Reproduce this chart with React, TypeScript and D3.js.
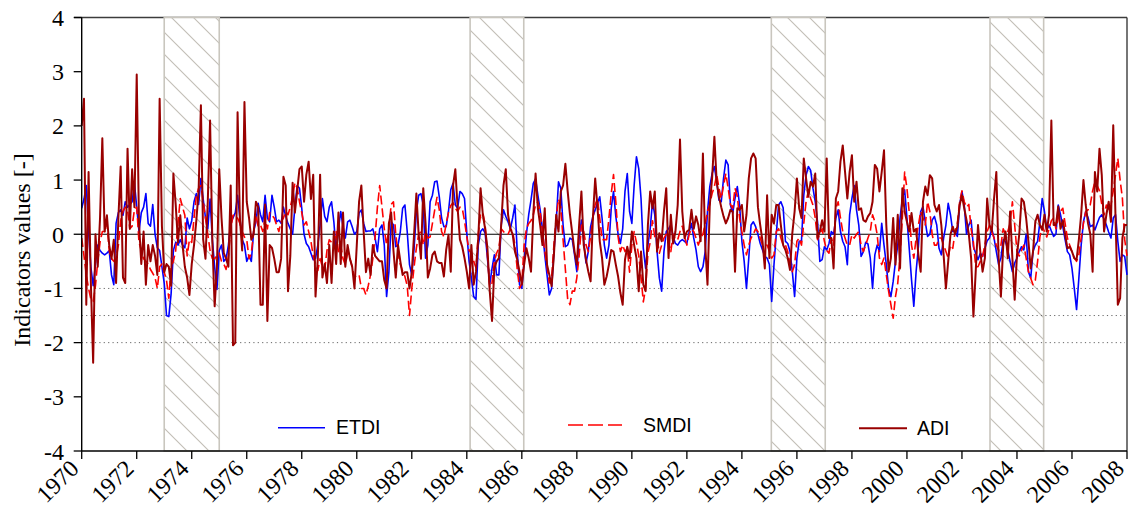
import React from 'react';
import * as d3 from 'd3';

// monthly values, Jan 1970 .. Jan 2008
const etdi = [
  0.48, 0.65, 0.9, 0.05, -0.6, -0.95, -0.55, -0.2, -0.3, -0.35,
  -0.38, -0.35, -0.3, -0.75, -0.93, 0.2, 0.4, 0.45, 0.35, 0.6,
  0.5, 0.55, 0.6, 0.95, 0.5, 0.05, 0.4, 0.5, 0.75, 0.2,
  0.15, 0.55, 0.0, -0.25, -0.3, -0.6, -0.9, -1.5, -1.52, -1.1,
  -0.3, -0.15, -0.2, -0.1, -0.2, -0.25, 0.3, 0.1, 0.25, 0.6,
  0.75, 0.55, 1.03, 0.65, 0.3, 0.1, 0.65, -0.1, -0.6, -1.02,
  -0.3, -0.2, -0.5, -0.45, -0.2, 0.2, 0.3, 0.4, 0.72, 0.3,
  -0.1, -0.2, -0.5, -0.4, -0.5, 0.05, 0.23, 0.57, 0.36, 0.23,
  0.72, 0.3, 0.23, 0.72, 0.5, 0.23, 0.26, 0.2, 0.5, 0.33,
  0.2, 0.1, 0.0, 0.5, 0.9, 0.85, 0.48, 0.0, -0.17, -0.23,
  -0.35, -0.47, -0.45, -0.2, 0.17, 0.66, 0.33, 0.23, 0.5, 0.6,
  0.23, -0.32, 0.1, 0.42, 0.14, -0.07, 0.23, 0.26, 0.14, 0.0,
  0.05, 0.39, 0.45, 0.2, 0.05, 0.06, 0.06, 0.1, -0.07, -0.32,
  0.1, 0.17, -0.2, -1.15, -0.7, 0.23, 0.17, -0.23, -0.2, 0.05,
  0.48, 0.54, 0.05, -0.56, -0.75, -0.26, 0.42, 0.72, 0.75, 0.54,
  -0.44, -0.2, 0.6, 0.72, 0.97, 0.98, 0.69, 0.3, 0.14, 0.14,
  0.42, 0.82, 0.94, 0.54, 0.48, 0.79, 0.75, 0.66, 0.02, -0.5,
  -0.81, -1.15, -1.2, -0.2, 0.05, 0.1, 0.02, -0.44, -0.93, -0.63,
  -0.38, -0.75, -0.75, 0.17, 0.45, 0.33, 0.23, 0.1, 0.3, 0.54,
  -0.32, -0.93, -1.0, -0.5, 0.0, 0.36, 0.63, 0.94, 1.02, 0.72,
  0.45, 0.1, -0.38, -0.75, -1.12, -1.0, -0.32, 0.23, 0.97, 0.85,
  0.17, -0.23, -0.2, -0.07, -0.1, -0.38, -0.69, -0.07, 0.26, -0.13,
  -0.53, -0.32, 0.14, 0.33, 0.45, 0.57, 0.69, 0.3, -0.2, -0.44,
  -0.2, 0.48, 0.79, 0.33, 0.0, -0.17, 0.1, 0.79, 1.12, 0.42,
  0.2, 0.9, 1.43, 1.21, 0.66, -0.26, -0.63, -0.2, 0.1, 0.6,
  0.36, -0.32, -0.81, -1.05, -0.32, 0.05, 0.1, 0.17, -0.04, -0.17,
  -0.2, -0.13, -0.1, -0.13, -0.17, 0.05, 0.2, -0.07, -0.29, -0.6,
  -0.69, -0.6, -0.32, 0.42, 0.88, 1.12, 1.25, 0.97, 0.63, 0.6,
  1.03, 1.37, 1.28, 0.54, 0.39, 0.66, 0.88, 0.54, -0.13, -0.5,
  -1.0, -0.44, 0.17, 0.23, 0.14, 0.0, -0.17, -0.29, -0.41, -0.44,
  -0.56, -1.24, -0.56, 0.0, 0.54, 0.6, 0.49, -0.13, -0.17, -0.32,
  -0.69, -1.15, -0.44, -0.13, -0.12, 0.72, 1.09, 1.25, 1.18, 0.85,
  0.6, 0.23, -0.5, -0.47, -0.23, -0.29, -0.17, 0.05, 0.0, 0.3,
  0.45, 0.05, -0.13, -0.23, -0.56, 0.36, 0.66, 0.9, 0.45, 0.17,
  -0.41, -0.32, -0.15, -0.18, -0.44, -1.0, -0.38, -0.2, -0.32, 0.2,
  -0.2, -0.56, -1.0, -1.15, -0.87, -0.5, -0.2, 0.3, 0.66, 0.82,
  0.3, -0.26, -0.84, -1.33, -0.69, -0.23, 0.42, 0.51, 0.23, -0.04,
  0.0, 0.26, 0.33, 0.17, -0.26, -0.38, -0.07, 0.17, 0.57, 0.36,
  0.05, 0.05, -0.04, 0.54, 0.79, 0.54, 0.0, 0.17, 0.26, -0.23,
  -0.35, -0.47, -0.35, -0.41, -0.26, -0.12, -0.07, 0.1, -0.07, -0.32,
  -0.56, -0.44, -0.1, -0.13, -0.29, -0.5, -0.69, -0.53, -0.44, -0.32,
  -0.23, -0.29, 0.0, -0.69, -0.81, -0.32, -0.2, -0.13, 0.23, 0.66,
  0.42, 0.08, 0.17, 0.06, -0.04, 0.0, 0.54, 0.36, 0.14, -0.1,
  -0.32, -0.38, -0.63, -1.0, -1.39, -0.81, -0.2, 0.23, 0.42, 0.31,
  0.14, 0.17, 0.08, 0.2, 0.31, 0.36, 0.28, 0.17, 0.04, -0.07,
  0.3, 0.36, -0.13, -0.5, -0.38, -0.41, -0.75,
];

const smdi = [
  -0.07, -0.4, -0.75, -1.0, -1.2, -1.24, -0.95, -0.5, -0.15, 0.05,
  0.05, 0.2, -0.3, -0.45, -0.5, -0.45, -0.2, 0.25, 0.42, 0.5,
  0.45, 0.1, 0.15, 0.45, 0.5, -0.15, -0.3, -0.45, -0.5, -0.55,
  -0.65, -0.72, -0.8, -1.0, -0.6, -0.55, -0.7, -0.85, -1.18, -0.6,
  -0.5, -0.3, 0.2, 0.66, 0.5, 0.35, -0.4, -0.1, -0.15, 0.3,
  0.7, 0.85, 0.9, 0.6, 0.3, 0.0, -0.3, -0.45, -0.45, -0.4,
  -0.35, -0.5, -0.55, -0.65, -0.4, 0.1, 0.35, 0.35, 0.3, 0.2,
  0.05, -0.05, -0.1, -0.45, -0.35, 0.05, 0.36, 0.14, 0.17, 0.05,
  0.3, 0.1, 0.4, 0.35, 0.3, 0.17, 0.05, 0.23, 0.3, 0.42,
  0.36, 0.5, 0.7, 0.95, 0.85, 0.6, 0.4, 0.17, 0.23, 0.05,
  -0.13, -0.4, -0.55, -0.67, -0.45, -0.6, -0.65, -0.3, -0.1, -0.15,
  -0.2, 0.05, -0.32, -0.2, -0.45, -0.56, -0.35, -0.45, -0.6, -0.8,
  -0.75, -0.75, -1.0, -1.0, -1.12, -0.95, -0.75, -0.45, -0.05, 0.5,
  0.9, 0.5, 0.1, -0.2, 0.1, 0.55, 0.6, 0.0, -0.35, -0.56,
  -0.68, -0.78, -0.95, -1.5, -1.0, -0.6, -0.25, 0.0, 0.05, -0.2,
  0.05, -0.07, -0.05, 0.2, 0.45, 0.68, 0.45, 0.05, -0.05, 0.2,
  0.4, 0.53, 0.58, 0.48, 0.42, 0.5, 0.48, 0.25, -0.05, -0.3,
  -0.35, -0.5, -0.62, 0.0, 0.36, 0.4, 0.17, -0.4, -0.98, -0.9,
  -0.5, -0.35, -0.25, 0.1, 0.05, 0.0, 0.0, 0.1, 0.05, -0.2,
  -0.65, -1.0, -0.9, -0.2, 0.1, 0.2, 0.25, 0.36, 0.54, 0.6,
  0.42, 0.05, -0.3, -0.6, -0.9, -0.8, -0.2, 0.3, 0.65, 0.5,
  -0.1, -0.65, -1.2, -1.3, -1.05, -1.05, -0.8, -0.4, 0.17, 0.05,
  -0.2, -0.32, -0.05, 0.3, 0.55, 0.66, 0.3, -0.1, -0.1, -0.1,
  0.3, 0.75, 1.1, 0.6, -0.05, -0.32, -0.2, -0.32, -0.26, -0.7,
  -0.2, 0.05, -0.15, -0.4, -0.78, -1.25, -1.0, -0.35, -0.15, 0.25,
  -0.05, -0.07, -0.35, -0.2, -0.07, 0.0, -0.15, -0.32, 0.0, -0.1,
  -0.1, 0.05, 0.15, -0.05, -0.2, 0.0, 0.1, 0.05, -0.07, -0.2,
  -0.07, 0.0, 0.2, 0.42, 0.55, 0.75, 0.88, 1.1, 0.85, 0.66,
  0.9, 1.12, 0.85, 0.55, 0.48, 0.85, 0.7, 0.3, 0.05, -0.2,
  -0.38, -0.2, -0.07, 0.0, 0.1, 0.05, -0.07, -0.2, -0.2, -0.2,
  -0.32, -0.44, -0.38, 0.05, 0.1, -0.07, -0.2, -0.2, -0.32, -0.56,
  -0.69, -0.56, -0.13, -0.07, -0.2, 0.2, 0.6, 0.8, 0.66, 0.54,
  0.3, -0.1, 0.0, 0.1, -0.13, -0.3, -0.35, -0.07, -0.2, 0.48,
  0.6, 0.3, 0.05, -0.07, -0.2, -0.2, -0.01, -0.07, 0.0, 0.05,
  -0.2, -0.32, -0.2, -0.07, 0.05, 0.36, 0.23, 0.0, -0.44, -0.56,
  -0.44, -0.75, -1.05, -1.3, -1.55, -1.15, -0.9, -0.4, 0.3, 1.15,
  0.85, 0.4, -0.2, -0.44, -0.07, 0.17, 0.42, 0.3, 0.17, 0.6,
  0.42, 0.0, -0.2, -0.2, -0.07, -0.07, -0.2, -0.32, -0.44, -0.2,
  -0.26, 0.05, 0.2, 0.6, 0.8, 0.6, 0.5, 0.55, 0.1, -0.15,
  -0.6, -0.6, -0.5, -0.4, -0.2, 0.05, 0.17, 0.05, -0.07, -0.2,
  -0.3, -0.2, 0.1, 0.0, 0.05, 0.2, 0.6, 0.17, -0.32, -0.4,
  -0.3, -0.2, -0.44, -0.69, -0.81, -0.93, -0.85, -0.5, -0.05, 0.15,
  0.05, -0.05, 0.1, 0.25, 0.3, 0.1, 0.3, 0.42, 0.48, 0.2,
  -0.07, -0.2, -0.32, -0.44, -0.5, -0.38, -0.07, 0.2, 0.42, 0.45,
  0.55, 0.8, 0.97, 0.9, 0.8, 0.55, 0.36, 0.54, 0.42, 0.54,
  0.8, 1.1, 1.4, 1.0, 0.66, -0.1, -0.4,
];

const adi = [
  2.0, 2.5, -1.3, 1.15, -0.9, -2.37, 0.0, -0.6, 0.3, 1.77,
  0.05, 0.35, -0.2, -0.45, -0.1, -0.9, 0.3, 1.25, -0.8, -0.9,
  1.58, 0.1, 1.2, 0.5, 2.95, 0.2, -0.55, 0.05, -0.93, -0.2,
  -0.5, -0.2, -0.4, -0.75, 2.5, 0.15, -0.7, -0.55, -0.6, -0.95,
  1.12, 0.55, -0.15, 0.35, -0.2, -0.6, -0.8, -1.12, -0.55, -0.2,
  0.25, 0.8, 2.38, -0.1, -0.45, 0.6, 2.1, -0.15, -1.33, -0.6,
  1.2, 0.3, -0.35, -0.45, -0.6, 0.9, -2.05, -2.0, 2.25, 0.3,
  -0.3, 2.44, 0.6, 0.3, -0.1, 0.0, 0.6, 0.5, -1.3, -1.3,
  0.55, -1.6, -0.2, -0.25, -0.45, -0.7, -0.7, -0.45, 1.06, 0.9,
  -1.05, -0.4, 0.95, 0.4, 0.8, 1.2, 1.25, 0.6, 1.1, 1.34,
  0.65, 1.1, -1.15, -0.45, 1.1, -0.8, -0.55, -0.9, -0.2, -0.9,
  0.05, -0.55, 0.4, -0.55, 0.4, -0.6, -0.2, -0.45, -0.6, -1.0,
  -0.2, 0.6, 0.9, 0.05, -0.7, -0.45, -0.75, -0.2, -0.4, -0.45,
  -0.5, -0.5, -0.85, -1.0, 0.2, 0.4, -0.3, -0.8, -0.2, -0.5,
  -0.75, -0.7, -0.7, -1.0, -0.7, 0.0, 0.75, 0.0, -0.45, 0.85,
  0.2, -0.8, -0.63, -0.38, -0.32, -0.5, -0.53, -0.53, -0.78, -0.29,
  -0.01, -0.69, 0.9, 1.2, 0.48, -0.1, -0.23, -0.44, -0.69, -1.0,
  -0.2, -0.93, -0.69, -0.07, 0.85, 0.36, 0.1, -0.26, -1.05, -1.6,
  -0.63, -0.5, -0.44, 0.17, 0.9, 1.2, 0.36, 0.1, 0.0, -0.32,
  -0.47, -0.69, -0.93, -0.56, -0.26, -0.44, -0.69, 0.36, 1.12, 0.48,
  0.17, -0.2, 0.48, -0.56, -0.75, -0.96, -0.38, 0.36, 0.05, 0.79,
  0.9, 1.3, 0.79, 0.36, 0.02, -0.32, -0.56, 0.17, 0.79, -0.2,
  -0.47, -0.69, -0.87, 0.3, 1.03, 0.5, -0.13, -0.44, -0.93, -0.78,
  -0.56, -0.29, -0.32, -0.56, -0.78, -1.08, -1.3, -0.47, -0.23, -0.44,
  0.05, -0.2, -0.44, -1.05, -0.32, -0.93, -1.05, 0.17, 0.79, 0.48,
  0.79, -0.32, 0.02, -0.13, 0.42, 0.85, -0.44, 0.36, -0.17, 0.05,
  0.54, 1.75, 0.42, -0.07, 0.05, 0.08, 0.45, 0.1, 0.33, 0.17,
  -0.13, 1.49, -0.2, -0.93, 0.54, 1.03, 1.8, 0.97, 0.69, 0.5,
  0.33, 0.2, 0.3, 0.45, 0.42, -0.69, 0.48, 0.45, 0.54, 0.05,
  0.36, 1.03, 1.4, 1.49, 1.4, 0.5, 0.17, -0.13, -0.63, 0.72,
  -0.44, 0.36, 0.2, 0.54, 0.54, 0.17, -0.2, -0.29, -0.44, -0.66,
  0.02, 0.42, 1.03, 0.48, 0.3, 1.4, 1.03, 0.69, 0.97, 0.88,
  1.12, -0.07, 0.05, 0.26, 0.05, 1.4, -0.07, -0.07, -0.63, 0.66,
  0.79, 1.34, 1.64, 1.15, 0.66, 1.15, 1.46, 0.6, 0.97, 0.45,
  0.48, 0.26, 0.23, 0.33, 0.39, 0.6, 1.28, 1.21, 0.79, 1.15,
  1.55, 0.17, -0.69, -0.44, 0.3, -0.56, 0.36, -0.63, 0.85, 0.42,
  0.23, 0.05, 0.39, 0.05, 0.1, -0.38, -0.69, 0.6, 0.88, 0.72,
  1.09, 1.03, 0.54, 0.42, 0.54, 0.17, -0.38, -1.0, -0.5, 0.0,
  0.14, 0.0, 0.14, 0.54, 0.72, 0.48, 0.26, 0.0, -0.44, -1.52,
  -0.69, 0.17, -0.32, -0.69, -0.44, 0.66, 0.17, 0.05, 0.66, 1.15,
  -0.44, -1.15, -0.2, 0.05, -0.44, 0.42, -0.44, -1.21, -0.38, 0.0,
  0.66, 0.6, 0.3, -0.13, -0.63, -0.32, 0.23, 0.36, 0.17, 0.08,
  0.36, 0.05, 0.36, 2.1, 0.17, 0.17, 0.51, 0.1, 0.26, 0.0,
  -0.26, -0.23, -0.32, -0.44, -0.47, -0.1, 0.36, 1.0, 0.54, 0.2,
  0.0, -0.69, 1.15, 0.79, 1.58, 1.09, 0.05, 0.36, 0.6, 0.23,
  2.01, 0.3, -1.3, -1.18, -0.07, 0.17, 0.17,
];

// drought periods (decimal years) shown as hatched boxes
const droughtStart = [1973.0, 1984.12, 1995.07, 2003.02];
const droughtEnd = [1975.0, 1986.07, 1997.03, 2004.97];

const yearTicks = d3.range(1970, 2009, 2);
const valueTicks = [-4, -3, -2, -1, 0, 1, 2, 3, 4];
const dottedLevels = [-1, -1.5, -2];

const W = 1131;
const H = 527;
const serif: React.CSSProperties = { fontFamily: "'Liberation Serif', 'Times New Roman', Times, serif" };
const sans: React.CSSProperties = { fontFamily: "'Liberation Sans', Arial, Helvetica, sans-serif" };

const App: React.FC = () => {
  const x = d3.scaleLinear().domain([1970, 2008]).range([81.7, 1127]);
  const y = d3.scaleLinear().domain([-4, 4]).range([451, 17.5]);
  const [xl, xr] = x.range();
  const [yb, yt] = y.range();

  const monthLine = d3
    .line<number>()
    .x((d, i) => x(1970 + i / 12))
    .y((d) => y(d));

  return (
    <svg width={W} height={H} style={{ position: 'absolute', left: 0, top: 0, background: '#fff' }}>
      <defs>
        <pattern id="hatch" patternUnits="userSpaceOnUse" width={22} height={22}>
          <rect width={22} height={22} fill="#fff" />
          <path d="M0,0L22,22M-3,19L3,25M19,-3L25,3" stroke="#c2beb6" strokeWidth={1.1} />
        </pattern>
      </defs>

      {/* frame top / right */}
      <line x1={74} x2={xr} y1={yt} y2={yt} stroke="#3c3c3c" strokeWidth={1.6} />
      <line x1={xr} x2={xr} y1={yt} y2={yb} stroke="#3c3c3c" strokeWidth={1.4} />

      {/* hatched periods */}
      {droughtStart.map((s, i) => (
        <rect
          key={'h' + i}
          x={x(s)}
          y={yt}
          width={x(droughtEnd[i]) - x(s)}
          height={yb - yt}
          fill="url(#hatch)"
          stroke="#c9c6be"
          strokeWidth={1.6}
        />
      ))}

      {/* reference lines */}
      {dottedLevels.map((v) => (
        <line
          key={'d' + v}
          x1={xl}
          x2={xr - 2}
          y1={y(v)}
          y2={y(v)}
          stroke="#666"
          strokeWidth={1}
          strokeDasharray="1.2,3.2"
        />
      ))}
      <line x1={xl} x2={xr} y1={y(0)} y2={y(0)} stroke="#000" strokeWidth={1.2} />

      {/* series */}
      <path d={monthLine(etdi) || ''} fill="none" stroke="#0000ff" strokeWidth={1.6} strokeLinejoin="round" />
      <path
        d={monthLine(smdi) || ''}
        fill="none"
        stroke="#ff0000"
        strokeWidth={1.6}
        strokeDasharray="9,4"
        strokeLinejoin="round"
      />
      <path d={monthLine(adi) || ''} fill="none" stroke="#990000" strokeWidth={2} strokeLinejoin="round" />

      {/* y axis */}
      <line x1={xl} x2={xl} y1={yt} y2={yb} stroke="#000" strokeWidth={1.4} />
      {valueTicks.map((v) => (
        <g key={'y' + v}>
          <line x1={xl - 8} x2={xl} y1={y(v)} y2={y(v)} stroke="#000" strokeWidth={1.3} />
          <text x={64} y={y(v) + 8.5} textAnchor="end" style={serif} fontSize={24} fill="#000">
            {v}
          </text>
        </g>
      ))}
      <text
        transform={`translate(30,250) rotate(-90)`}
        textAnchor="middle"
        style={serif}
        fontSize={24}
        fill="#000"
      >
        Indicators values [-]
      </text>

      {/* x axis */}
      <line x1={xl} x2={xr} y1={yb} y2={yb} stroke="#000" strokeWidth={1.4} />
      {yearTicks.map((t) => (
        <g key={'x' + t}>
          <line x1={x(t)} x2={x(t)} y1={yb} y2={yb + 8} stroke="#000" strokeWidth={1.3} />
          <text
            transform={`translate(${x(t) - 1.5},470) rotate(-45)`}
            textAnchor="end"
            style={serif}
            fontSize={24}
            fill="#000"
          >
            {t}
          </text>
        </g>
      ))}

      {/* legend */}
      <line x1={278} x2={325} y1={427.7} y2={427.7} stroke="#0000ff" strokeWidth={1.6} />
      <text x={336} y={434} style={sans} fontSize={19.5} fill="#000">
        ETDI
      </text>
      <line x1={568} x2={622} y1={425} y2={425} stroke="#ff0000" strokeWidth={1.6} strokeDasharray="15,5" />
      <text x={643} y={432} style={sans} fontSize={19.5} fill="#000">
        SMDI
      </text>
      <line x1={859} x2={907} y1={428.3} y2={428.3} stroke="#990000" strokeWidth={2} />
      <text x={917} y={435} style={sans} fontSize={19.5} fill="#000">
        ADI
      </text>
    </svg>
  );
};

export default App;
